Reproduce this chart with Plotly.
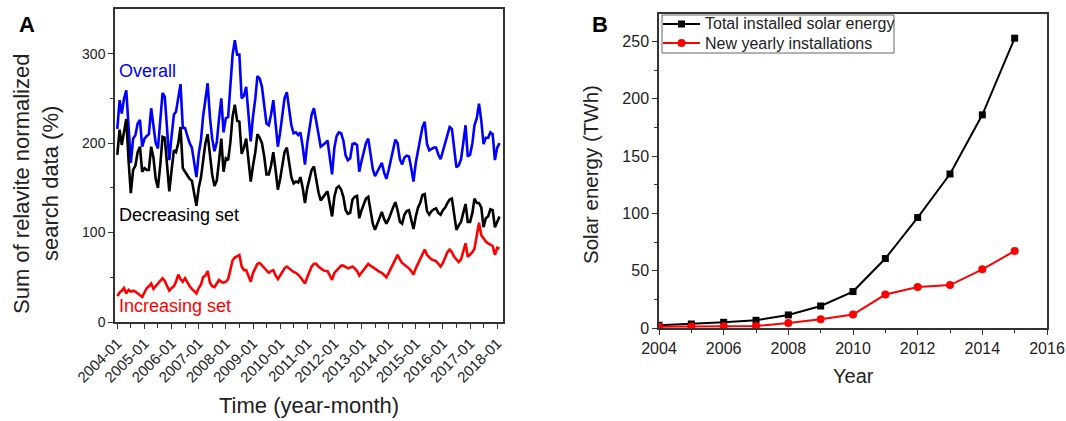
import pandas as pd
import plotly.graph_objects as go

# ---------------- Panel A data (monthly, 2004-01 .. 2018-02) ----------------
decreasing = [
    187, 215, 198, 212, 227, 180, 144, 170, 175, 190, 196, 168,   # 2004
    172, 170, 170, 196, 184, 160, 150, 175, 207, 206, 175, 146,   # 2005
    170, 192, 190, 200, 218, 172, 168, 164, 160, 158, 145, 130,   # 2006
    150, 162, 180, 200, 210, 185, 165, 152, 158, 180, 205, 168,   # 2007
    183, 181, 200, 230, 243, 225, 224, 188, 195, 205, 180, 157,   # 2008
    175, 190, 210, 206, 200, 185, 165, 165, 175, 190, 170, 148,   # 2009
    160, 175, 190, 195, 180, 162, 155, 157, 156, 162, 150, 133,   # 2010
    150, 160, 170, 174, 160, 145, 136, 140, 143, 146, 130, 118,   # 2011
    140, 150, 152, 148, 140, 125, 121, 122, 137, 140, 141, 116,   # 2012
    125, 132, 138, 140, 125, 110, 103, 110, 118, 123, 115, 110,   # 2013
    115, 123, 128, 134, 125, 112, 110, 120, 124, 125, 115, 104,   # 2014
    118, 128, 133, 142, 143, 124, 120, 124, 126, 127, 122, 120,   # 2015
    125, 128, 133, 137, 138, 120, 103, 108, 112, 122, 132, 112,   # 2016
    112, 122, 138, 133, 133, 128, 106, 116, 118, 126, 125, 106,   # 2017
    112, 118,                                                     # 2018
]
increasing = [
    29, 33, 35, 38, 32, 36, 34, 35, 34, 32, 30, 28,
    33, 38, 40, 43, 37, 40, 44, 47, 49, 46, 40, 35,
    38, 40, 45, 53, 48, 45, 49, 44, 40, 37, 34, 32,
    38, 42, 50, 52, 57, 44, 40, 39, 43, 47, 45, 44,
    45, 48, 58, 69, 72, 74, 75, 62, 58, 58, 52, 45,
    55, 60, 65, 66, 63, 60, 57, 55, 57, 58, 52, 48,
    52, 56, 60, 62, 60, 58, 56, 55, 53, 50, 46, 43,
    50, 56, 62, 65, 65, 62, 60, 58, 57, 57, 52, 47,
    55, 58, 60, 63, 63, 61, 60, 61, 62, 60, 57, 52,
    55, 58, 62, 65, 63, 61, 60, 58, 56, 55, 52, 50,
    55, 60, 65, 70, 75, 70, 66, 64, 62, 60, 57, 53,
    60, 65, 70, 76, 81, 75, 72, 70, 69, 68, 65, 62,
    66, 72, 78, 81, 78, 73, 70, 67, 70, 78, 88, 73,
    75, 78, 82, 95, 111, 97, 93, 90, 88, 86, 85, 75,
    83, 82,
]
overall = [
    216, 248, 233, 250, 259, 216, 178, 205, 209, 222, 226, 196,
    205, 208, 210, 239, 221, 200, 194, 222, 256, 252, 215, 181,
    208, 232, 235, 253, 266, 217, 217, 208, 200, 195, 179, 162,
    188, 204, 230, 252, 267, 229, 205, 191, 201, 227, 250, 212,
    228, 229, 258, 299, 315, 299, 299, 250, 253, 263, 232, 202,
    230, 250, 275, 272, 263, 245, 222, 220, 232, 248, 222, 196,
    212, 231, 250, 257, 240, 220, 211, 212, 209, 212, 196, 176,
    200, 216, 232, 239, 225, 207, 196, 198, 200, 203, 182, 165,
    195, 208, 212, 211, 203, 186, 181, 183, 199, 200, 198, 168,
    180, 190, 200, 205, 188, 171, 163, 168, 174, 178, 167, 160,
    170, 183, 193, 204, 200, 182, 176, 184, 186, 185, 172, 157,
    178, 193, 203, 218, 224, 199, 192, 194, 195, 195, 187, 182,
    191, 200, 211, 218, 216, 193, 173, 175, 182, 200, 220, 185,
    187, 200, 220, 228, 244, 225, 199, 206, 206, 212, 210, 181,
    195, 200,
]
months = pd.date_range("2004-01-01", periods=len(overall), freq="MS")

# ---------------- Panel B data ----------------
years = [2004, 2005, 2006, 2007, 2008, 2009, 2010, 2011, 2012, 2013, 2014, 2015]
total_installed = [2.4, 3.5, 5.0, 6.7, 11.4, 19.2, 31.8, 60.6, 96.4, 134.4, 186.0, 252.9]
new_yearly = [1.0, 1.2, 1.5, 1.8, 4.4, 7.6, 11.7, 29.2, 35.8, 37.5, 51.2, 67.2]
legend_names = ["Total installed solar energy", "New yearly installations"]

FONT = "Liberation Sans, Arial, sans-serif"
TXT = "#222222"
AX = "#333333"

fig = go.Figure()

lw = 2.6
fig.add_trace(go.Scatter(x=months, y=overall, mode="lines", line=dict(color="#0000ff", width=lw),
                         xaxis="x", yaxis="y", showlegend=False))
fig.add_trace(go.Scatter(x=months, y=decreasing, mode="lines", line=dict(color="#000000", width=lw),
                         xaxis="x", yaxis="y", showlegend=False))
fig.add_trace(go.Scatter(x=months, y=increasing, mode="lines", line=dict(color="#ff0000", width=lw),
                         xaxis="x", yaxis="y", showlegend=False))

fig.add_trace(go.Scatter(x=years, y=total_installed, mode="lines+markers", name=legend_names[0],
                         line=dict(color="#000000", width=2), marker=dict(symbol="square", size=7, color="#000000"),
                         xaxis="x2", yaxis="y2", showlegend=False))
fig.add_trace(go.Scatter(x=years, y=new_yearly, mode="lines+markers", name=legend_names[1],
                         line=dict(color="#ff0000", width=2), marker=dict(symbol="circle", size=8, color="#ff0000"),
                         xaxis="x2", yaxis="y2", showlegend=False))

W, H = 1066, 421
def px_x(p): return p / W
def px_y(p): return 1 - p / H

axis_common = dict(showline=True, linecolor=AX, linewidth=1.5, mirror=True, showgrid=False, zeroline=False,
                   ticks="outside", ticklen=5, tickwidth=1.2, tickcolor=AX, automargin=False)

fig.update_layout(
    width=W, height=H, margin=dict(l=0, r=0, t=0, b=0, autoexpand=False),
    paper_bgcolor="white", plot_bgcolor="white",
    font=dict(family=FONT, color=TXT),
    xaxis=dict(domain=[px_x(115), px_x(503)], anchor="y", type="date",
               range=["2003-12-01", "2018-03-20"], tick0="2004-01-01", dtick="M12", tickformat="%Y-%m",
               tickangle=-45, tickfont=dict(family=FONT, size=15, color=TXT),
               minor=dict(dtick="M6", ticks="outside", ticklen=4, tickcolor=AX), **axis_common),
    yaxis=dict(domain=[px_y(322), px_y(9)], anchor="x", range=[0, 350], tickvals=[0, 100, 200, 300],
               tickfont=dict(family=FONT, size=14, color=TXT),
               minor=dict(tickvals=[50, 150, 250], ticks="outside", ticklen=3, tickcolor=AX), **axis_common),
    xaxis2=dict(domain=[px_x(659), px_x(1047)], anchor="y2", range=[2004, 2016], dtick=2,
                tickfont=dict(family=FONT, size=16, color=TXT),
                minor=dict(dtick=1, ticks="outside", ticklen=3, tickcolor=AX), **axis_common),
    yaxis2=dict(domain=[px_y(328), px_y(14)], anchor="x2", range=[0, 274], dtick=50,
                tickfont=dict(family=FONT, size=16, color=TXT),
                minor=dict(dtick=25, ticks="outside", ticklen=3, tickcolor=AX), **axis_common),
    showlegend=False,
)

# ---- hand-built legend box for panel B (compact row spacing like the original) ----
fig.add_shape(type="rect", xref="paper", yref="paper", x0=px_x(662), x1=px_x(894), y0=px_y(53), y1=px_y(15),
              line=dict(color="#666666", width=1), fillcolor="white", layer="above")
for i, (name, col, sym) in enumerate([(legend_names[0], "#000000", "square"), (legend_names[1], "#ff0000", "circle")]):
    yc = 24 + 19 * i
    fig.add_shape(type="line", xref="paper", yref="paper", x0=px_x(663), x1=px_x(700), y0=px_y(yc), y1=px_y(yc),
                  line=dict(color=col, width=2), layer="above")
    if sym == "square":
        fig.add_shape(type="rect", xref="paper", yref="paper", x0=px_x(678), x1=px_x(685),
                      y0=px_y(yc + 3.5), y1=px_y(yc - 3.5), line=dict(color=col, width=0), fillcolor=col, layer="above")
    else:
        fig.add_shape(type="circle", xref="paper", yref="paper", x0=px_x(677.5), x1=px_x(685.5),
                      y0=px_y(yc + 4), y1=px_y(yc - 4), line=dict(color=col, width=0), fillcolor=col, layer="above")
    fig.add_annotation(text=name, x=px_x(703), y=px_y(yc), xref="paper", yref="paper", showarrow=False,
                       font=dict(family=FONT, size=16, color=TXT), xanchor="left", yanchor="middle")

ann = [
    dict(text="<b>A</b>", x=px_x(27), y=px_y(25), size=22, color="#000000"),
    dict(text="<b>B</b>", x=px_x(600), y=px_y(25), size=22, color="#000000"),
    dict(text="Time (year-month)", x=px_x(309), y=px_y(405), size=22, color=TXT),
    dict(text="Year", x=px_x(853), y=px_y(376), size=20, color=TXT),
]
for a in ann:
    fig.add_annotation(text=a["text"], x=a["x"], y=a["y"], xref="paper", yref="paper",
                       showarrow=False, font=dict(family=FONT, size=a["size"], color=a["color"]),
                       xanchor="center", yanchor="middle")

# Y title of panel A, two lines
for txt, xp in [("Sum of relavite normalized", 21), ("search data (%)", 50)]:
    fig.add_annotation(text=txt, x=px_x(xp), y=px_y(184), xref="paper", yref="paper", showarrow=False,
                       textangle=-90, font=dict(family=FONT, size=22, color=TXT),
                       xanchor="center", yanchor="middle")
fig.add_annotation(text="Solar energy (TWh)", x=px_x(590), y=px_y(175),
                   xref="paper", yref="paper", showarrow=False, textangle=-90,
                   font=dict(family=FONT, size=20.5, color=TXT), xanchor="center", yanchor="middle")

# in-plot series labels for panel A
for txt, yv, col in [("Overall", 281, "#0000ff"), ("Decreasing set", 120, "#000000"), ("Increasing set", 18, "#ff0000")]:
    fig.add_annotation(text=txt, x="2004-01-01", y=yv, xref="x", yref="y", showarrow=False,
                       font=dict(family=FONT, size=18, color=col), xanchor="left", yanchor="middle")

# remove the default 8px page margin so the figure fills the window exactly; hide the mode bar
fig.write_html("out.html", config={"displayModeBar": False},
               post_script="document.body.style.margin='0';document.body.style.overflow='hidden';")
